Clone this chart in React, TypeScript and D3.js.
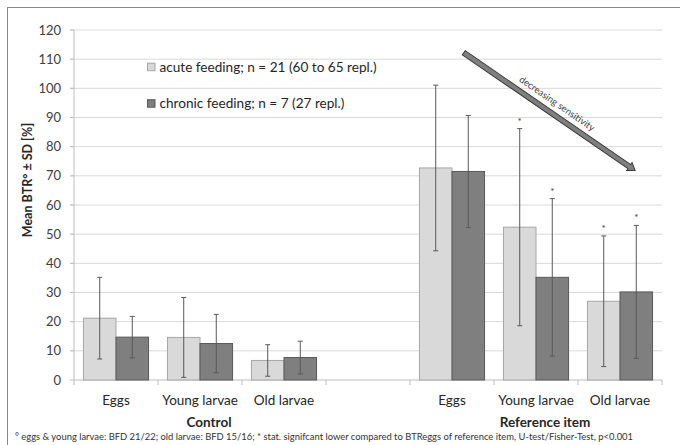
import React from "react";
import * as d3 from "d3";

const categories = ["Eggs", "Young larvae", "Old larvae", "", "Eggs", "Young larvae", "Old larvae"];
const groupNames = ["Control", "Reference item"];
const groupRanges = [[0, 2], [4, 6]];
const seriesNames = ["acute feeding; n = 21 (60 to 65 repl.)", "chronic feeding; n = 7 (27 repl.)"];
const acuteMean = [21.2, 14.6, 6.7, null, 72.7, 52.4, 27.0];
const acuteSD = [14.0, 13.7, 5.4, null, 28.4, 33.8, 22.4];
const chronicMean = [14.7, 12.5, 7.7, null, 71.5, 35.2, 30.2];
const chronicSD = [7.1, 10.0, 5.6, null, 19.2, 27.0, 22.8];
const acuteSig = [false, false, false, false, false, true, true];
const chronicSig = [false, false, false, false, false, true, true];
const yTicks = [0, 10, 20, 30, 40, 50, 60, 70, 80, 90, 100, 110, 120];
const arrowFrom = { cat: 4, frac: 0.64, value: 112.2 };
const arrowTo = { cat: 6, frac: 0.68, value: 71.8 };
const arrowLabel = "decreasing sensitivity";
const yTitle = "Mean BTR° ± SD [%]";
const footnote = "° eggs & young larvae: BFD 21/22; old larvae: BFD 15/16; * stat. signifcant lower compared to BTReggs of reference item, U-test/Fisher-Test, p<0.001";

const W = 680, H = 445;
const FONT = "Lato, 'Open Sans', sans-serif";
const colors = { acute: "#d9d9d9", acuteStroke: "#a6a6a6", chronic: "#7f7f7f", chronicStroke: "#595959" };

export default function App() {
  const keys = categories.map((_, i) => String(i));
  const x = d3.scaleBand<string>().domain(keys).range([74, 662]).paddingInner(0).paddingOuter(0);
  const x1 = d3.scaleBand<string>().domain(["acute", "chronic"]).range([0, x.bandwidth()]).paddingInner(0).paddingOuter(0.29);
  const y = d3.scaleLinear().domain([0, 120]).range([380, 30]);

  const series = [
    { key: "acute", mean: acuteMean, sd: acuteSD, sig: acuteSig, fill: colors.acute, stroke: colors.acuteStroke },
    { key: "chronic", mean: chronicMean, sd: chronicSD, sig: chronicSig, fill: colors.chronic, stroke: colors.chronicStroke },
  ];

  const ax = (p: { cat: number; frac: number }) => (x(String(p.cat)) as number) + p.frac * x.bandwidth();
  const x0 = ax(arrowFrom), y0 = y(arrowFrom.value), xe = ax(arrowTo), ye = y(arrowTo.value);
  const ang = Math.atan2(ye - y0, xe - x0);
  const len = Math.hypot(xe - x0, ye - y0);
  const sw = 2.5, hw = 4.8, hl = 7;
  const arrowPts = [
    [0, -sw], [len - hl, -sw], [len - hl, -hw], [len, 0], [len - hl, hw], [len - hl, sw], [0, sw],
  ].map((p) => p.join(",")).join(" ");
  const angDeg = (ang * 180) / Math.PI;
  const mx = (x0 + xe) / 2 + 2, my = (y0 + ye) / 2;
  const off = 10;
  const nx = Math.sin(ang) * off, ny = -Math.cos(ang) * off;

  return (
    <svg width={W} height={H} style={{ position: "absolute", left: 0, top: 0, background: "#fff" }} fontFamily={FONT}>
      <rect x={7.5} y={7.5} width={W} height={H} fill="#fff" stroke="#8a8a8a" strokeWidth={1} />
      {yTicks.filter((t) => t > 0).map((t) => (
        <line key={t} x1={70} x2={662} y1={y(t)} y2={y(t)} stroke="#d9d9d9" strokeWidth={1} />
      ))}
      <line x1={74} x2={74} y1={y(120)} y2={y(0)} stroke="#bfbfbf" />
      {yTicks.map((t) => (
        <g key={t}>
          <line x1={70} x2={74} y1={y(t)} y2={y(t)} stroke="#bfbfbf" />
          <text x={61} y={y(t)} dy="0.35em" textAnchor="end" fontSize={13} fill="#404040">{t}</text>
        </g>
      ))}
      <line x1={74} x2={662} y1={y(0)} y2={y(0)} stroke="#bfbfbf" />
      {keys.concat(["end"]).map((k, i) => {
        const xx = i < keys.length ? (x(k) as number) : 662;
        return <line key={k} x1={xx} x2={xx} y1={y(0)} y2={y(0) + 5} stroke="#bfbfbf" />;
      })}
      {series.map((s) => (
        <g key={s.key}>
          {s.mean.map((m, i) => {
            if (m == null) return null;
            const bx = (x(String(i)) as number) + (x1(s.key) as number);
            return (
              <rect key={i} x={bx} y={y(m)} width={x1.bandwidth()} height={y(0) - y(m)} fill={s.fill} stroke={s.stroke} strokeWidth={1} />
            );
          })}
        </g>
      ))}
      {series.map((s) => (
        <g key={s.key + "e"}>
          {s.mean.map((m, i) => {
            if (m == null) return null;
            const sd = s.sd[i] as number;
            const cx = (x(String(i)) as number) + (x1(s.key) as number) + x1.bandwidth() / 2;
            const top = y(m + sd), bot = y(Math.max(0, m - sd));
            return (
              <g key={i} stroke="#595959" strokeWidth={1}>
                <line x1={cx} x2={cx} y1={top} y2={bot} />
                <line x1={cx - 2.5} x2={cx + 2.5} y1={top} y2={top} />
                <line x1={cx - 2.5} x2={cx + 2.5} y1={bot} y2={bot} />
                {s.sig[i] && (
                  <text x={cx} y={top - 4} textAnchor="middle" fontSize={10} fill="#404040" stroke="none">*</text>
                )}
              </g>
            );
          })}
        </g>
      ))}
      {categories.map((c, i) => (
        <text key={i} x={(x(String(i)) as number) + x.bandwidth() / 2} y={405} textAnchor="middle" fontSize={13.5} fill="#262626">{c}</text>
      ))}
      {groupNames.map((g, gi) => {
        const [a, b] = groupRanges[gi];
        const cx = ((x(String(a)) as number) + (x(String(b)) as number) + x.bandwidth()) / 2 + 9;
        return <text key={g} x={cx} y={427} textAnchor="middle" fontSize={13.5} fontWeight="bold" fill="#262626">{g}</text>;
      })}
      <text transform={`translate(32,${180}) rotate(-90)`} textAnchor="middle" fontSize={12.5} fontWeight="bold" fill="#262626">{yTitle}</text>
      {series.map((s, i) => (
        <g key={s.key + "l"} transform={`translate(147,${66.7 + i * 36.5})`}>
          <rect x={0.5} y={-3.5} width={7.5} height={7.5} fill={s.fill} stroke={s.stroke} />
          <text x={12.5} y={0} dy="0.36em" fontSize={13.6} fill="#262626">{seriesNames[i]}</text>
        </g>
      ))}
      <polygon points={arrowPts} transform={`translate(${x0},${y0}) rotate(${angDeg})`} fill="#7f7f7f" stroke="#3a3a3a" strokeWidth={1} strokeLinejoin="miter" />
      <text transform={`translate(${mx + nx},${my + ny}) rotate(${angDeg})`} dy="0.35em" textAnchor="middle" fontSize={9.5} fill="#404040">{arrowLabel}</text>
      <text x={15} y={440} fontSize={9} fill="#333" textLength={618} lengthAdjust="spacingAndGlyphs">{footnote}</text>
    </svg>
  );
}
